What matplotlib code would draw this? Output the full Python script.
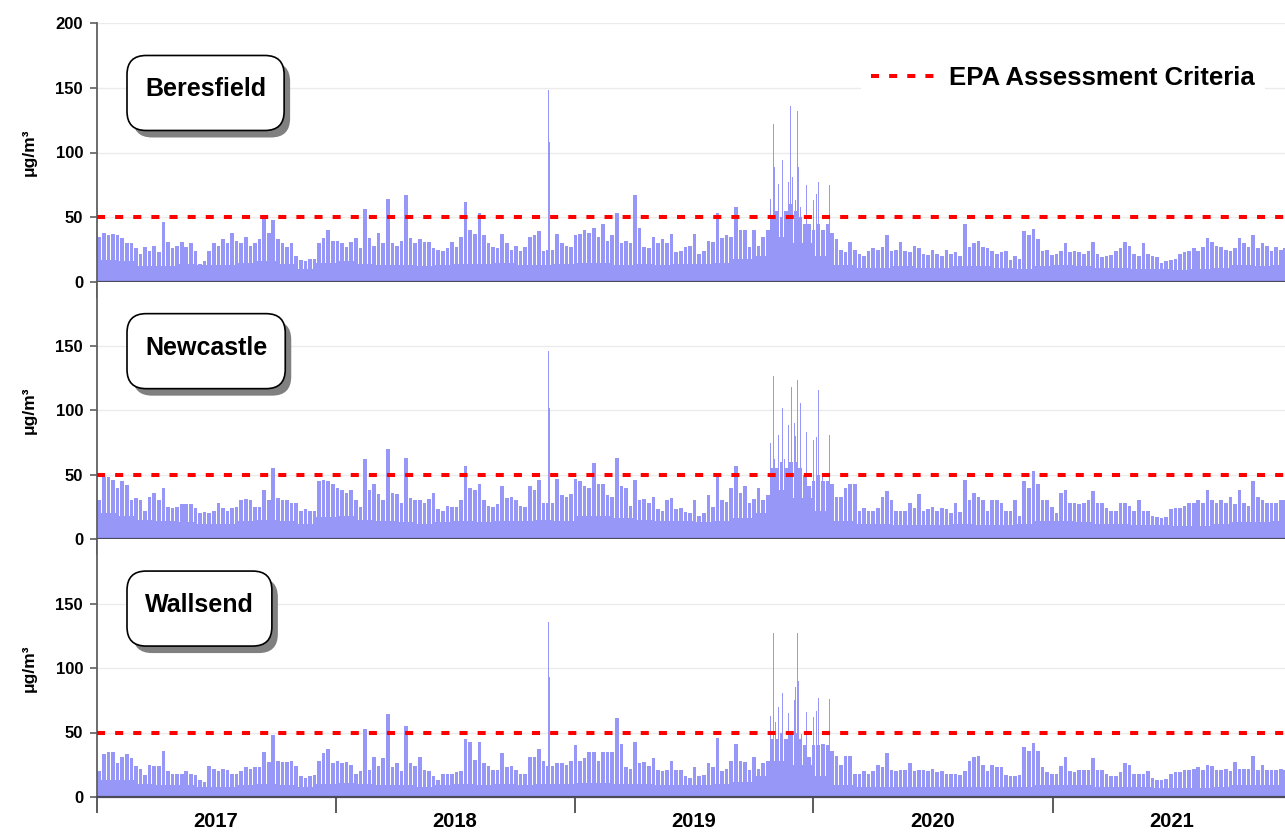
import numpy as np
import matplotlib
matplotlib.use("Agg")
import matplotlib.pyplot as plt
import matplotlib.dates as mdates
from matplotlib.patches import FancyBboxPatch
from matplotlib.lines import Line2D

plt.rcParams['font.family'] = ['Liberation Sans', 'DejaVu Sans']
plt.rcParams['font.weight'] = 'bold'

stations = ["Beresfield", "Newcastle", "Wallsend"]
years = [2017, 2018, 2019, 2020, 2021]
criteria = 50

# monthly background level (ug/m3), Jan 2017 .. Dec 2021
base_beresfield = [17, 16, 12, 12, 14, 13, 13, 15, 16, 14, 10, 15,
                   16, 14, 13, 13, 12, 13, 14, 14, 15, 13, 13, 14,
                   15, 15, 13, 14, 13, 14, 14, 15, 18, 20, 35, 30,
                   20, 13, 11, 11, 12, 11, 11, 12, 12, 11, 10, 12,
                   13, 12, 11, 11, 10, 10, 9, 10, 11, 13, 12, 13]
base_newcastle = [20, 18, 15, 14, 13, 12, 12, 14, 15, 14, 12, 17,
                  18, 15, 14, 13, 12, 13, 14, 13, 14, 14, 15, 14,
                  18, 18, 16, 15, 14, 14, 13, 14, 16, 20, 38, 32,
                  22, 14, 12, 12, 11, 11, 11, 12, 11, 11, 12, 14,
                  14, 13, 12, 12, 11, 11, 10, 10, 12, 13, 13, 14]
base_wallsend = [13, 13, 10, 9, 9, 8, 8, 9, 10, 9, 8, 10,
                 11, 10, 9, 9, 8, 9, 10, 9, 10, 9, 10, 10,
                 11, 11, 10, 10, 9, 9, 9, 10, 12, 16, 28, 25,
                 16, 9, 8, 8, 8, 8, 8, 8, 8, 8, 8, 9,
                 9, 9, 8, 8, 8, 7, 7, 7, 8, 9, 9, 9]

# weekly highs, weeks starting 1 Jan 2017
peak_beresfield = [
    35, 38, 36, 37, 36, 34, 30, 30, 26, 22, 27, 24, 28, 23, 46, 31, 26, 28, 31, 27,
    30, 24, 14, 16, 24, 30, 28, 33, 30, 38, 32, 30, 35, 28, 30, 33, 49, 38, 48, 33,
    30, 27, 30, 20, 17, 16, 18, 18, 30, 34, 40, 32,
    32, 30, 27, 31, 34, 26, 56, 34, 28, 38, 30, 64, 30, 28, 32, 67, 34, 30, 33, 31,
    31, 26, 25, 24, 26, 31, 27, 35, 62, 40, 37, 53, 36, 30, 27, 26, 37, 30, 25, 28,
    24, 27, 35, 36, 39, 24, 25, 25, 37, 30, 28, 27,
    36, 37, 40, 38, 42, 35, 45, 32, 36, 53, 30, 32, 30, 67, 42, 27, 26, 35, 30, 33,
    30, 37, 23, 24, 27, 28, 37, 22, 24, 32, 31, 53, 34, 36, 35, 58, 40, 40, 27, 40,
    28, 35, 40, 50, 55, 50, 55, 60, 55, 50, 45, 45,
    40, 45, 40, 45, 38, 33, 25, 23, 31, 25, 22, 20, 24, 26, 25, 27, 36, 24, 25, 31,
    24, 23, 28, 26, 22, 21, 25, 22, 20, 25, 22, 23, 20, 45, 27, 30, 32, 27, 26, 24,
    22, 23, 24, 17, 20, 18, 39, 36, 41, 33, 24, 25,
    21, 22, 24, 30, 23, 24, 23, 22, 24, 31, 22, 19, 20, 21, 24, 26, 31, 28, 22, 20,
    30, 22, 20, 19, 15, 16, 17, 18, 22, 23, 24, 26, 24, 27, 34, 31, 28, 27, 25, 24,
    26, 34, 30, 27, 36, 26, 30, 28, 24, 27, 25, 26, 24]
peak_newcastle = [
    30, 48, 48, 46, 40, 45, 42, 30, 32, 30, 22, 33, 36, 30, 40, 25, 24, 25, 27, 27,
    27, 24, 20, 21, 20, 22, 28, 24, 22, 24, 25, 30, 31, 30, 25, 25, 38, 30, 55, 32,
    30, 30, 28, 28, 22, 23, 22, 22, 45, 46, 45, 43,
    40, 38, 36, 38, 30, 25, 62, 38, 43, 35, 30, 70, 36, 35, 28, 63, 32, 30, 30, 28,
    31, 36, 23, 22, 26, 25, 25, 30, 57, 40, 38, 43, 30, 26, 25, 27, 41, 32, 33, 30,
    26, 25, 41, 38, 46, 28, 28, 28, 47, 34, 33, 35,
    47, 45, 41, 40, 59, 43, 43, 34, 33, 63, 41, 40, 26, 46, 30, 31, 28, 33, 23, 22,
    30, 32, 23, 24, 21, 20, 30, 18, 20, 34, 25, 49, 30, 29, 40, 57, 36, 41, 28, 31,
    40, 30, 34, 55, 55, 60, 55, 60, 60, 55, 50, 41,
    45, 50, 45, 45, 43, 33, 33, 40, 43, 43, 22, 24, 22, 22, 24, 33, 37, 30, 22, 22,
    22, 28, 24, 35, 22, 23, 25, 22, 24, 23, 20, 28, 21, 46, 30, 36, 33, 30, 22, 30,
    30, 28, 22, 22, 30, 18, 45, 40, 53, 43, 30, 30,
    25, 20, 36, 38, 28, 28, 27, 28, 30, 37, 28, 28, 24, 22, 22, 28, 28, 26, 22, 30,
    22, 22, 18, 17, 16, 17, 23, 24, 24, 26, 28, 28, 30, 28, 38, 30, 28, 30, 28, 33,
    27, 38, 28, 26, 45, 33, 30, 28, 28, 28, 30, 30, 28]
peak_wallsend = [
    20, 33, 35, 35, 26, 31, 33, 30, 24, 22, 17, 25, 24, 24, 36, 20, 18, 18, 18, 20,
    18, 17, 13, 12, 24, 22, 20, 22, 21, 18, 18, 20, 23, 22, 23, 23, 35, 27, 48, 28,
    27, 27, 28, 24, 16, 15, 16, 17, 28, 34, 37, 26,
    28, 26, 27, 25, 18, 20, 53, 21, 31, 24, 30, 64, 23, 26, 20, 55, 26, 24, 31, 21,
    20, 16, 13, 18, 18, 18, 19, 20, 45, 43, 29, 43, 26, 24, 21, 21, 34, 23, 24, 21,
    18, 18, 31, 31, 37, 28, 24, 24, 26, 26, 25, 28,
    40, 28, 30, 35, 35, 28, 35, 35, 35, 61, 41, 23, 22, 43, 26, 27, 24, 30, 21, 20,
    21, 28, 21, 21, 16, 15, 23, 16, 17, 26, 23, 46, 20, 22, 28, 41, 28, 27, 21, 31,
    22, 26, 28, 45, 45, 50, 45, 50, 50, 45, 40, 31,
    40, 40, 41, 40, 36, 32, 25, 32, 32, 18, 18, 20, 18, 20, 25, 23, 34, 21, 20, 21,
    21, 26, 20, 21, 21, 20, 22, 19, 20, 18, 18, 18, 17, 20, 28, 31, 32, 25, 20, 25,
    23, 23, 17, 16, 16, 17, 39, 36, 42, 36, 23, 19,
    18, 18, 24, 31, 20, 19, 21, 21, 21, 30, 21, 21, 18, 16, 16, 19, 26, 25, 18, 18,
    18, 20, 15, 13, 13, 14, 18, 19, 19, 21, 21, 22, 23, 21, 25, 24, 21, 21, 22, 20,
    27, 22, 22, 22, 32, 21, 25, 21, 21, 21, 22, 21, 20]

# individual high days (dust storm Nov 2018, bushfire smoke 2019-20)
events_beresfield = [
    ("2018-11-22", 148), ("2018-11-23", 108),
    ("2019-10-27", 64), ("2019-10-31", 122), ("2019-11-02", 89), ("2019-11-08", 76),
    ("2019-11-14", 94), ("2019-11-23", 77), ("2019-11-27", 136), ("2019-11-29", 81),
    ("2019-12-04", 63), ("2019-12-07", 132), ("2019-12-09", 89), ("2019-12-12", 58),
    ("2019-12-21", 75), ("2020-01-01", 63), ("2020-01-05", 68), ("2020-01-09", 77),
    ("2020-01-25", 75)]
events_newcastle = [
    ("2018-11-22", 146), ("2018-11-23", 102),
    ("2019-10-27", 75), ("2019-10-31", 127), ("2019-11-02", 62), ("2019-11-09", 81),
    ("2019-11-14", 102), ("2019-11-18", 62), ("2019-11-23", 89), ("2019-11-28", 118),
    ("2019-12-02", 90), ("2019-12-04", 80), ("2019-12-07", 124), ("2019-12-12", 106),
    ("2019-12-21", 83), ("2020-01-01", 77), ("2020-01-06", 79), ("2020-01-09", 116),
    ("2020-01-14", 51), ("2020-01-25", 81), ("2020-02-21", 53)]
events_wallsend = [
    ("2018-11-22", 136), ("2018-11-23", 93),
    ("2019-10-27", 63), ("2019-10-31", 127), ("2019-11-03", 58), ("2019-11-09", 70),
    ("2019-11-14", 81), ("2019-11-23", 65), ("2019-12-02", 75), ("2019-12-04", 85),
    ("2019-12-07", 127), ("2019-12-09", 90), ("2019-12-14", 49), ("2019-12-21", 66),
    ("2020-01-01", 62), ("2020-01-05", 67), ("2020-01-09", 77), ("2020-01-25", 76),
    ("2020-02-21", 46)]

bases = [base_beresfield, base_newcastle, base_wallsend]
peaks = [peak_beresfield, peak_newcastle, peak_wallsend]
events = [events_beresfield, events_newcastle, events_wallsend]

bar_color = '#9797f8'

months = np.arange('2017-01', '2022-01', dtype='datetime64[M]')
month_x = mdates.date2num(months.astype('datetime64[D]'))
month_w = np.diff(mdates.date2num(np.arange('2017-01', '2022-02', dtype='datetime64[M]').astype('datetime64[D]')))
weeks = np.arange(np.datetime64('2017-01-01'), np.datetime64('2022-01-01'), np.timedelta64(7, 'D'))
week_x = mdates.date2num(weeks)
year_x = mdates.date2num(np.array([f'{y}-01-01' for y in years], dtype='datetime64[D]'))
mid_x = mdates.date2num(np.array([f'{y}-07-02' for y in years], dtype='datetime64[D]'))
x0 = mdates.date2num(np.datetime64('2017-01-01'))
x1 = mdates.date2num(np.datetime64('2022-01-01'))

W, H = 1285, 834
fig = plt.figure(figsize=(W / 100, H / 100), dpi=100)
ax_left, ax_right = 97, 1291.5
edges = [(23, 282), (282, 539), (539, 797)]
axes = []
for top, bot in edges:
    axes.append(fig.add_axes([ax_left / W, 1 - bot / H, (ax_right - ax_left) / W, (bot - top) / H]))

renderer = fig.canvas.get_renderer()

for i, ax in enumerate(axes):
    ax.bar(month_x, bases[i], width=month_w, align='edge', color=bar_color, linewidth=0, zorder=1)
    ax.bar(week_x + 3.5, peaks[i], width=5.5, color=bar_color, linewidth=0, zorder=1)
    ev_x = mdates.date2num(np.array([d for d, _ in events[i]], dtype='datetime64[D]'))
    ax.bar(ev_x + 0.5, [v for _, v in events[i]], width=1.5, color=bar_color, linewidth=0, zorder=1)

    ax.axhline(criteria, color='#ff0000', lw=2.9, dashes=(2, 2.5), zorder=4)

    ax.set_xlim(x0, x1)
    ax.set_ylim(0, 200)
    ax.set_yticks([0, 50, 100, 150, 200] if i == 0 else [0, 50, 100, 150])
    ax.yaxis.grid(True, color='#ebebeb', lw=1)
    ax.set_axisbelow(True)
    for s in ['top', 'right']:
        ax.spines[s].set_visible(False)
    ax.spines['left'].set_color('#606060')
    ax.spines['left'].set_linewidth(1.3)
    ax.spines['bottom'].set_color('#4a4a5a')
    ax.spines['bottom'].set_linewidth(1.6)
    ax.tick_params(axis='y', direction='out', length=5, width=1.2, color='#606060',
                   labelsize=12, pad=5)
    ax.set_xticks(year_x)
    ax.tick_params(axis='x', which='major', direction='out', length=11.5, width=1.2,
                   color='#404040', labelbottom=False)
    ax.set_ylabel('μg/m³', fontsize=12.5, fontweight='bold')
    ax.yaxis.set_label_coords((37 - ax_left) / (ax_right - ax_left), 0.5)

    # station name in a rounded box with drop shadow
    ax_w = ax_right - ax_left
    ax_h = edges[i][1] - edges[i][0]
    t = ax.text((127 + 18 - ax_left) / ax_w, 0.745, stations[i], transform=ax.transAxes,
                ha='left', va='center', fontsize=18, fontweight='bold', zorder=8)
    tw = t.get_window_extent(renderer=renderer).width
    bx, by = (127 - ax_left) / ax_w, 0.585
    bw, bh = (tw + 36) / ax_w, 75 / ax_h
    shadow = FancyBboxPatch((bx + 6 / ax_w, by - 7 / ax_h), bw, bh,
                            boxstyle='round,pad=0,rounding_size=0.016',
                            mutation_aspect=ax_w / ax_h, transform=ax.transAxes,
                            fc='#808080', ec='none', zorder=6)
    box = FancyBboxPatch((bx, by), bw, bh,
                         boxstyle='round,pad=0,rounding_size=0.016',
                         mutation_aspect=ax_w / ax_h, transform=ax.transAxes,
                         fc='white', ec='black', lw=1.2, zorder=7)
    ax.add_patch(shadow)
    ax.add_patch(box)

# year labels centred under each year on the bottom panel
bottom = axes[-1]
bottom.set_xticks(mid_x, minor=True)
bottom.set_xticklabels([str(y) for y in years], minor=True)
bottom.tick_params(axis='x', which='minor', length=0, labelsize=14.5, pad=11)

handle = Line2D([], [], color='#ff0000', lw=2.9, dashes=(2, 2.5))
axes[0].legend([handle], ['EPA Assessment Criteria'], loc='center left',
               bbox_to_anchor=(0.629, 0.788), frameon=True, fancybox=False,
               edgecolor='none', facecolor='white', framealpha=1,
               prop={'weight': 'bold', 'size': 18.5}, handlelength=2.5,
               handletextpad=0.5, borderpad=0.4)

fig.savefig('out.png', dpi=100)
